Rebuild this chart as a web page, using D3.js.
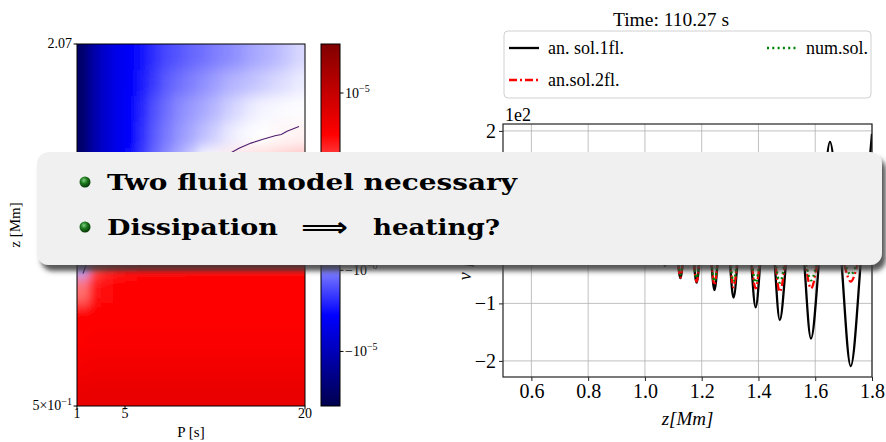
<!DOCTYPE html>
<html>
<head>
<meta charset="utf-8">
<script src="https://cdn.jsdelivr.net/npm/d3@7"></script>
<style>
  body { margin: 0; background: #fff; }
  svg { display: block; }
  text { font-family: "Liberation Serif", serif; fill: #000; }
</style>
</head>
<body>
<svg id="chart" width="886" height="442"></svg>
<script>
// ---------- left panel: field over period P and height z ----------
const pEdges = [1, 2, 3, 4, 5, 6, 7, 8, 9, 10, 11, 12, 13, 14, 15, 16, 17, 18, 19, 20];
const zEdges = [2.07, 1.87, 1.689, 1.526, 1.379, 1.246, 1.126, 1.017, 0.919, 0.83, 0.75, 0.678, 0.612, 0.553, 0.5];
// rows top (z=2.07) to bottom (z=0.5), values in units of 1e-6
const fieldRows = [
  [-27, -12, -7, -5, -4.1, -3.2, -2.4, -1.9, -1.6, -1.36, -1.2, -1.0, -0.88, -0.76, -0.61, -0.52, -0.44, -0.33, -0.23],
  [-27, -12, -7, -5, -4.1, -2.9, -2.1, -1.5, -1.2, -1.0, -0.82, -0.66, -0.52, -0.44, -0.37, -0.3, -0.23, -0.18, -0.12],
  [-27, -12, -7, -5, -3.9, -2.6, -1.7, -1.2, -0.88, -0.71, -0.57, -0.44, -0.3, -0.21, -0.12, -0.08, -0.06, -0.05, -0.04],
  [-27, -12, -7, -5, -3.9, -2.4, -1.5, -1.07, -0.76, -0.57, -0.4, -0.27, -0.15, -0.08, -0.05, -0.03, -0.008, 0.0073, 0.018],
  [-27, -12, -7, -5, -3.5, -2.1, -1.3, -0.82, -0.52, -0.3, -0.06, -0.005, 0.04, 0.07, 0.1, 0.13, 0.16, 0.2, 0.25],
  [-20, -10, -5, -3, -1.8, -1.0, -0.5, -0.15, 0.05, 0.15, 0.25, 0.3, 0.35, 0.4, 0.45, 0.5, 0.5, 0.55, 0.6],
  [-8, -3, -1, -0.2, 0.1, 0.3, 0.5, 0.7, 0.8, 0.9, 1.0, 1.0, 1.1, 1.1, 1.2, 1.2, 1.2, 1.3, 1.3],
  [-1.5, -0.3, 0.3, 0.8, 1.2, 1.5, 1.7, 1.9, 2.0, 2.1, 2.1, 2.2, 2.2, 2.2, 2.2, 2.3, 2.3, 2.3, 2.3],
  [-0.6, 1.5, 2.2, 2.6, 2.8, 2.9, 3.0, 3.0, 3.0, 3.1, 3.1, 3.1, 3.1, 3.1, 3.1, 3.1, 3.1, 3.1, 3.1],
  [1.0, 2.7, 3.0, 3.2, 3.3, 3.3, 3.3, 3.3, 3.3, 3.3, 3.3, 3.3, 3.3, 3.3, 3.3, 3.3, 3.3, 3.3, 3.3],
  [3.2, 3.4, 3.4, 3.4, 3.4, 3.4, 3.4, 3.4, 3.4, 3.4, 3.4, 3.4, 3.4, 3.4, 3.4, 3.4, 3.4, 3.4, 3.4],
  [3.5, 3.6, 3.6, 3.6, 3.6, 3.6, 3.6, 3.6, 3.6, 3.6, 3.6, 3.6, 3.6, 3.6, 3.6, 3.6, 3.6, 3.6, 3.6],
  [4.1, 4.2, 4.2, 4.2, 4.2, 4.2, 4.2, 4.2, 4.2, 4.2, 4.2, 4.2, 4.2, 4.2, 4.2, 4.2, 4.2, 4.2, 4.2],
  [4.9, 5.0, 5.0, 5.0, 5.0, 5.0, 5.0, 5.0, 5.0, 5.0, 5.0, 5.0, 5.0, 5.0, 5.0, 5.0, 5.0, 5.0, 5.0]
];
const pTicks = [1, 5, 20];
const cbarTicks = [-1e-5, -1e-6, 1e-5];

// ---------- right panel: velocity profiles at t = 110.27 s ----------
const zPts = [0.5, 1.0, 1.02, 1.033, 1.045, 1.058, 1.07, 1.084, 1.097, 1.111, 1.125, 1.139, 1.153, 1.167, 1.182, 1.197,
  1.213, 1.229, 1.245, 1.261, 1.278, 1.295, 1.312, 1.331, 1.35, 1.37, 1.39, 1.411, 1.432, 1.453, 1.475, 1.502,
  1.53, 1.557, 1.585, 1.618, 1.652, 1.688, 1.725, 1.765, 1.8];
// values in units of 1e2
const vSol1 = [0, 0, -0.2, 0, 0.3, 0, -0.35, 0, 0.5, 0, -0.56, 0, 0.6, 0, -0.64, 0,
  0.7, 0, -0.77, 0, 0.83, 0, -0.9, 0, 0.98, 0, -1.07, 0, 1.18, 0, -1.29, 0,
  1.45, 0, -1.61, 0, 1.81, 0, -2.09, 0, 1.95];
const vSol2 = [0, 0, -0.2, 0, 0.3, 0, -0.35, 0, 0.48, 0, -0.55, 0, 0.58, 0, -0.62, 0,
  0.65, 0, -0.68, 0, 0.7, 0, -0.72, 0, 0.73, 0, -0.74, 0, 0.77, 0, -0.8, 0,
  0.78, 0, -0.74, 0, 0.68, 0, -0.62, 0, 0.55];
const vNum = [0, 0, -0.18, 0, 0.28, 0, -0.33, 0, 0.45, 0, -0.5, 0, 0.54, 0, -0.56, 0,
  0.6, 0, -0.62, 0, 0.62, 0, -0.62, 0, 0.63, 0, -0.64, 0, 0.65, 0, -0.64, 0,
  0.63, 0, -0.6, 0, 0.56, 0, -0.5, 0, 0.45];
const zTicksR = [0.6, 0.8, 1.0, 1.2, 1.4, 1.6, 1.8];
const vTicksR = [-2, -1, 0, 1, 2];

const serif = '"Liberation Serif", serif';
const svg = d3.select("#chart");
const defs = svg.append("defs");

// ===== left heatmap =====
const hm = { left: 77, right: 305, top: 44, bottom: 406 };
const xP = d3.scaleLinear().domain([1, 20]).range([hm.left, hm.right]);
const yZ = d3.scaleLog().domain([0.5, 2.07]).range([hm.bottom, hm.top]);

const vmin = -3.9e-5, vmax = 3.4e-5, linC = 0.45e-6;
const norm = d3.scaleSymlog().constant(linC).domain([vmin, vmax]).range([0, 1]).clamp(true);
const seismic = d3.scaleLinear()
  .domain([0, 0.25, 0.5, 0.75, 1])
  .range(["#00004d", "#0000ff", "#ffffff", "#ff0000", "#800000"]);

const nC = pEdges.length - 1, nR = zEdges.length - 1;
const cells = [];
fieldRows.forEach((row, r) => row.forEach((v, c) => cells.push({ r, c, v: v * 1e-6 })));

defs.append("clipPath").attr("id", "hmClip")
  .append("rect").attr("x", hm.left).attr("y", hm.top)
  .attr("width", hm.right - hm.left).attr("height", hm.bottom - hm.top);
const blur = defs.append("filter").attr("id", "smooth")
  .attr("filterUnits", "userSpaceOnUse")
  .attr("x", hm.left - 30).attr("y", hm.top - 30)
  .attr("width", hm.right - hm.left + 60).attr("height", hm.bottom - hm.top + 60);
blur.append("feGaussianBlur").attr("stdDeviation", "4 7");

const pad = 24;
svg.append("g").attr("clip-path", "url(#hmClip)")
  .append("g").attr("filter", "url(#smooth)")
  .selectAll("rect").data(cells).join("rect")
  .attr("x", d => xP(pEdges[d.c]) - (d.c === 0 ? pad : 0))
  .attr("y", d => yZ(zEdges[d.r]) - (d.r === 0 ? pad : 0))
  .attr("width", d => xP(pEdges[d.c + 1]) - xP(pEdges[d.c]) + 0.6 + (d.c === 0 || d.c === nC - 1 ? pad : 0))
  .attr("height", d => yZ(zEdges[d.r + 1]) - yZ(zEdges[d.r]) + 0.6 + (d.r === 0 || d.r === nR - 1 ? pad : 0))
  .attr("fill", d => seismic(norm(d.v)));

// zero contour, keeping only the part inside the grid (drop border edges)
const zeroLine = d3.contours().size([nC, nR]).thresholds([0])(fieldRows.flat())[0];
const cx = d3.scaleLinear().domain([0, nC]).range([xP(pEdges[0]), xP(pEdges[nC])]);
const cy = d3.scaleLinear().domain([0, nR]).range([yZ(zEdges[0]), yZ(zEdges[nR])]);
const onBorder = p => p[0] < 1e-6 || p[0] > nC - 1e-6 || p[1] < 1e-6 || p[1] > nR - 1e-6;
const contourSegs = [];
zeroLine.coordinates.flat().forEach(ring => {
  let cur = [];
  ring.forEach(p => {
    if (onBorder(p)) { if (cur.length > 1) contourSegs.push(cur); cur = []; }
    else cur.push(p);
  });
  if (cur.length > 1) contourSegs.push(cur);
});
const contourLine = d3.line().x(p => cx(p[0])).y(p => cy(p[1]));
svg.append("g").selectAll("path").data(contourSegs).join("path")
  .attr("d", contourLine)
  .attr("fill", "none").attr("stroke", "#4e1d6e").attr("stroke-width", 1.1);

svg.append("rect").attr("x", hm.left).attr("y", hm.top)
  .attr("width", hm.right - hm.left).attr("height", hm.bottom - hm.top)
  .attr("fill", "none").attr("stroke", "#000").attr("stroke-width", 1);

// heatmap ticks
const hmAxis = svg.append("g").style("font-size", "14px");
pTicks.forEach(p => {
  hmAxis.append("line").attr("x1", xP(p)).attr("x2", xP(p)).attr("y1", hm.bottom).attr("y2", hm.bottom + 3.5).attr("stroke", "#000");
  hmAxis.append("text").attr("x", xP(p)).attr("y", hm.bottom + 12).attr("text-anchor", "middle").text(p);
});
[2.07, 0.5].forEach(z => {
  hmAxis.append("line").attr("x1", hm.left - 3.5).attr("x2", hm.left).attr("y1", yZ(z)).attr("y2", yZ(z)).attr("stroke", "#000");
});
hmAxis.append("text").attr("x", hm.left - 5).attr("y", yZ(2.07) + 4).attr("text-anchor", "end").text("2.07");
const lowLab = hmAxis.append("text").attr("x", hm.left - 5).attr("y", yZ(0.5) + 4).attr("text-anchor", "end");
lowLab.append("tspan").text("5×10");
lowLab.append("tspan").attr("dy", -5).style("font-size", "10px").text("−1");

svg.append("text").attr("x", (hm.left + hm.right) / 2).attr("y", 437)
  .attr("text-anchor", "middle").style("font-size", "15px").text("P [s]");
svg.append("text").attr("transform", `translate(20,${(hm.top + hm.bottom) / 2}) rotate(-90)`)
  .attr("text-anchor", "middle").style("font-size", "15px").text("z [Mm]");

// colorbar
const cb = { left: 321, right: 340 };
const cbarY = d3.scaleSymlog().constant(linC).domain([vmin, vmax]).range([hm.bottom, hm.top]);
const grad = defs.append("linearGradient").attr("id", "cbGrad")
  .attr("x1", 0).attr("x2", 0).attr("y1", 1).attr("y2", 0);
seismic.domain().forEach((t, i) => {
  grad.append("stop").attr("offset", t).attr("stop-color", seismic.range()[i]);
});
svg.append("rect").attr("x", cb.left).attr("y", hm.top)
  .attr("width", cb.right - cb.left).attr("height", hm.bottom - hm.top)
  .attr("fill", "url(#cbGrad)").attr("stroke", "#000").attr("stroke-width", 1);
const cbAxis = svg.append("g").style("font-size", "14px");
cbarTicks.forEach(v => {
  const y = cbarY(v);
  cbAxis.append("line").attr("x1", cb.right).attr("x2", cb.right + 3.5).attr("y1", y).attr("y2", y).attr("stroke", "#000");
  const t = cbAxis.append("text").attr("x", cb.right + 5).attr("y", y + 5);
  const e = Math.round(Math.log10(Math.abs(v)));
  t.append("tspan").text((v < 0 ? "−" : "") + "10");
  t.append("tspan").attr("dy", -6).style("font-size", "10px").text("−" + Math.abs(e));
});

// ===== right line chart =====
const rp = { left: 503, right: 872, top: 124, bottom: 377 };
const xR = d3.scaleLinear().domain([0.5, 1.8]).range([rp.left, rp.right]);
const yR = d3.scaleLinear().domain([-2.28, 2.12]).range([rp.bottom, rp.top]);

const grid = svg.append("g").attr("stroke", "#b0b0b0").attr("stroke-width", 0.8);
zTicksR.forEach(z => grid.append("line").attr("x1", xR(z)).attr("x2", xR(z)).attr("y1", rp.top).attr("y2", rp.bottom));
vTicksR.forEach(v => grid.append("line").attr("x1", rp.left).attr("x2", rp.right).attr("y1", yR(v)).attr("y2", yR(v)));

defs.append("clipPath").attr("id", "rpClip")
  .append("rect").attr("x", rp.left).attr("y", rp.top)
  .attr("width", rp.right - rp.left).attr("height", rp.bottom - rp.top);

const series = [
  { name: "an. sol.1fl.", vals: vSol1, color: "#000000", dash: null },
  { name: "an.sol.2fl.", vals: vSol2, color: "#ff0000", dash: "8,3,2,3" },
  { name: "num.sol.", vals: vNum, color: "#008000", dash: "2,3.3" }
];
const line = d3.line().x(d => xR(d[0])).y(d => yR(d[1])).curve(d3.curveMonotoneX);
const lines = svg.append("g").attr("clip-path", "url(#rpClip)");
series.forEach(s => {
  lines.append("path")
    .attr("d", line(zPts.map((z, i) => [z, s.vals[i]])))
    .attr("fill", "none").attr("stroke", s.color).attr("stroke-width", 2.3)
    .attr("stroke-dasharray", s.dash);
});

const xAxisR = svg.append("g").attr("transform", `translate(0,${rp.bottom})`)
  .call(d3.axisBottom(xR).tickValues(zTicksR).tickFormat(d3.format(".1f")).tickSize(4).tickPadding(3));
const yAxisR = svg.append("g").attr("transform", `translate(${rp.left},0)`)
  .call(d3.axisLeft(yR).tickValues(vTicksR).tickFormat(d => d < 0 ? "−" + (-d) : d).tickSize(4).tickPadding(3));
[xAxisR, yAxisR].forEach(a => {
  a.attr("font-family", null).attr("font-size", null);
  a.select(".domain").remove();
  a.selectAll("text").style("font-family", serif).style("font-size", "20px");
  a.selectAll("line").attr("stroke", "#222");
});
svg.append("rect").attr("x", rp.left).attr("y", rp.top)
  .attr("width", rp.right - rp.left).attr("height", rp.bottom - rp.top)
  .attr("fill", "none").attr("stroke", "#222").attr("stroke-width", 1.2);

svg.append("text").attr("x", rp.left + 2).attr("y", 121).style("font-size", "18px").text("1e2");
svg.append("text").attr("x", (rp.left + rp.right) / 2).attr("y", 425)
  .attr("text-anchor", "middle").style("font-size", "19px").style("font-style", "italic").text("z[Mm]");
svg.append("text").attr("transform", `translate(471,${(rp.top + rp.bottom) / 2}) rotate(-90)`)
  .attr("text-anchor", "middle").style("font-size", "18px").style("font-style", "italic").text("v [km/s]");

svg.append("text").attr("x", 671).attr("y", 26).attr("text-anchor", "middle")
  .style("font-size", "19.5px").text("Time: 110.27 s");

// legend
const lg = svg.append("g");
lg.append("rect").attr("x", 504).attr("y", 31).attr("width", 367).attr("height", 67).attr("rx", 4)
  .attr("fill", "#fff").attr("stroke", "#d0d0d0").attr("stroke-width", 1);
const legendPos = [{ x: 509, y: 48 }, { x: 509, y: 80 }, { x: 767, y: 48 }];
series.forEach((s, i) => {
  const p = legendPos[i];
  lg.append("line").attr("x1", p.x).attr("x2", p.x + 30).attr("y1", p.y).attr("y2", p.y)
    .attr("stroke", s.color).attr("stroke-width", 2.3).attr("stroke-dasharray", s.dash);
  lg.append("text").attr("x", p.x + 39).attr("y", p.y + 6).style("font-size", "18px").text(s.name);
});

// ===== overlay box =====
const shadow = defs.append("filter").attr("id", "shadow")
  .attr("x", "-5%").attr("y", "-20%").attr("width", "115%").attr("height", "150%");
shadow.append("feDropShadow").attr("dx", 4).attr("dy", 6).attr("stdDeviation", 2.5)
  .attr("flood-color", "#3a3a3a").attr("flood-opacity", 0.85);
svg.append("rect").attr("x", 37).attr("y", 152).attr("width", 845).attr("height", 113).attr("rx", 12)
  .attr("fill", "#f0f0f0").attr("filter", "url(#shadow)");

const ball = defs.append("radialGradient").attr("id", "ball")
  .attr("cx", "40%").attr("cy", "35%").attr("r", "65%");
ball.append("stop").attr("offset", 0).attr("stop-color", "#7fd07f");
ball.append("stop").attr("offset", 0.45).attr("stop-color", "#1f7a1f");
ball.append("stop").attr("offset", 1).attr("stop-color", "#063806");
[182, 227].forEach(y => svg.append("circle").attr("cx", 85).attr("cy", y).attr("r", 5.5).attr("fill", "url(#ball)"));

function boldText(x, y, str, len, family, size) {
  return svg.append("text").attr("x", x).attr("y", y)
    .attr("textLength", len).attr("lengthAdjust", "spacingAndGlyphs")
    .style("font-family", family || '"DejaVu Serif", serif')
    .style("font-weight", "bold").style("font-size", (size || 23) + "px")
    .text(str);
}
boldText(107, 190, "Two fluid model necessary", 410);
boldText(107, 235, "Dissipation", 171);
boldText(301, 236, "⟹", 47, '"DejaVu Sans", sans-serif', 26);
boldText(373, 235, "heating?", 127);
</script>
</body>
</html>
